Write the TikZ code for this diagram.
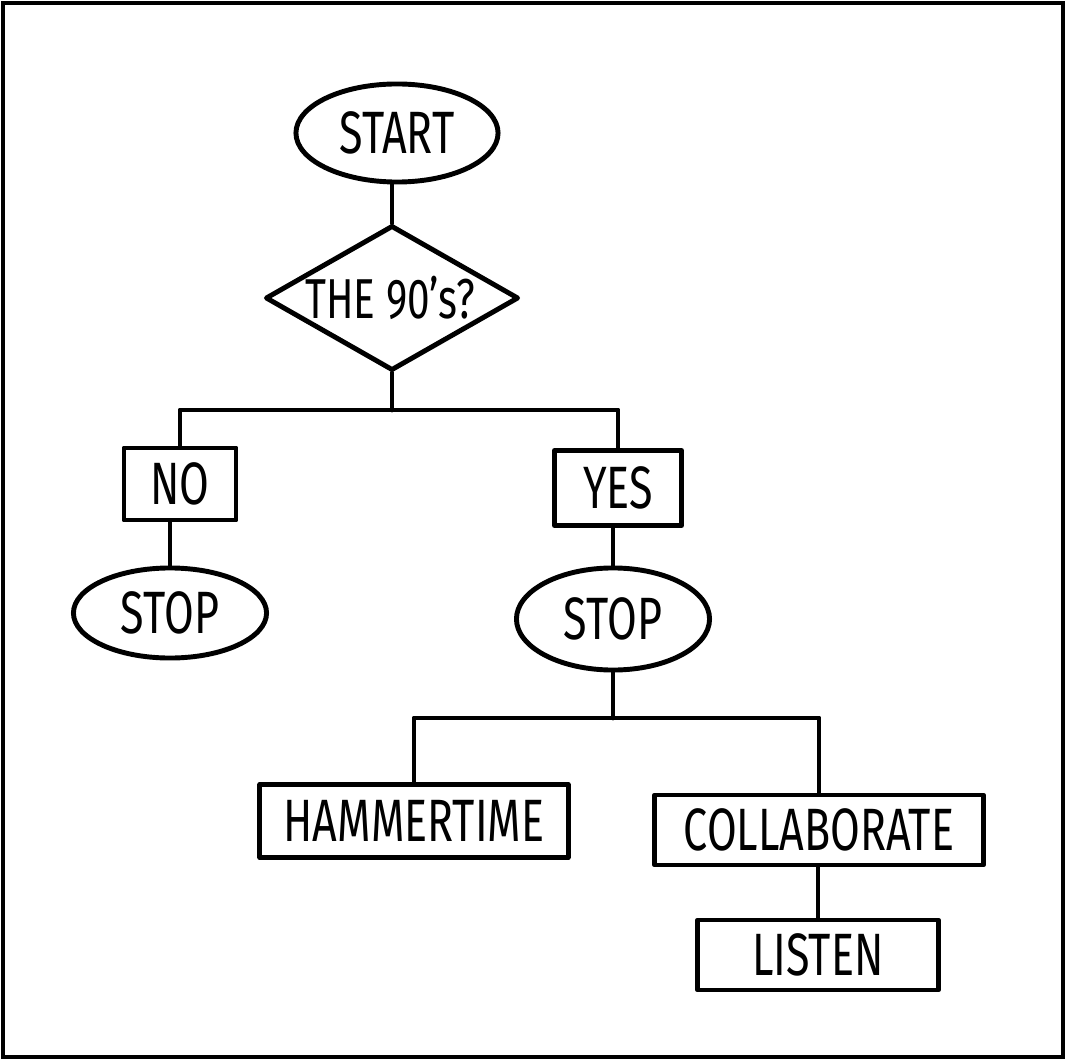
\documentclass[tikz,border=0pt]{standalone}
\usepackage{fontspec}
\setmainfont[FakeStretch=0.72]{Fira Sans}
\usetikzlibrary{shapes.geometric}
\tikzset{
  ln/.style={line width=1.4pt, line join=round, line cap=round},
  oval/.style={ln, draw, ellipse, inner sep=0pt, font=\fontsize{17}{17}\selectfont},
  dec/.style={ln, draw, diamond, inner sep=0pt},
  dectext/.style={inner sep=0pt, font=\fontsize{16}{16}\selectfont},
  box/.style={ln, draw, rectangle, inner sep=0pt, font=\fontsize{17}{17}\selectfont},
}
\begin{document}
\begin{tikzpicture}[x=0.01cm, y=-0.01cm]
\useasboundingbox (0,0) rectangle (1067,1061);
\draw[line width=1.2pt] (3,3) rectangle (1063,1057);

\node[oval, minimum width=2.02cm, minimum height=0.98cm] (start) at (397,133) {START};
\node[dec, minimum width=2.53cm, minimum height=1.45cm] (dia) at (392,298) {};
\node[dectext] (diat) at (390,298) {THE 90's?};
\node[box, minimum width=1.12cm, minimum height=0.72cm] (no) at (180,484) {NO};
\node[box, minimum width=1.27cm, minimum height=0.75cm] (yes) at (618,488) {YES};
\node[oval, minimum width=1.93cm, minimum height=0.90cm] (stopL) at (170,613) {STOP};
\node[oval, minimum width=1.93cm, minimum height=1.02cm] (stopR) at (613,619) {STOP};
\node[box, minimum width=3.08cm, minimum height=0.73cm] (ham) at (414,821) {HAMMERTIME};
\node[box, minimum width=3.28cm, minimum height=0.70cm] (col) at (819,830) {COLLABORATE};
\node[box, minimum width=2.40cm, minimum height=0.70cm] (lis) at (818,955) {LISTEN};

\coordinate (j1) at (392,410);
\coordinate (j2) at (613,718);

\draw[ln] (start.south -| dia.north) -- (dia.north);
\draw[ln] (dia.south) -- (j1);
\draw[ln] (no.north) |- (j1) -| (yes.north);
\draw[ln] (no.south -| stopL.north) -- (stopL.north);
\draw[ln] (yes.south -| stopR.north) -- (stopR.north);
\draw[ln] (stopR.south) -- (j2);
\draw[ln] (ham.north) |- (j2) -| (col.north);
\draw[ln] (col.south -| lis.north) -- (lis.north);
\end{tikzpicture}
\end{document}
